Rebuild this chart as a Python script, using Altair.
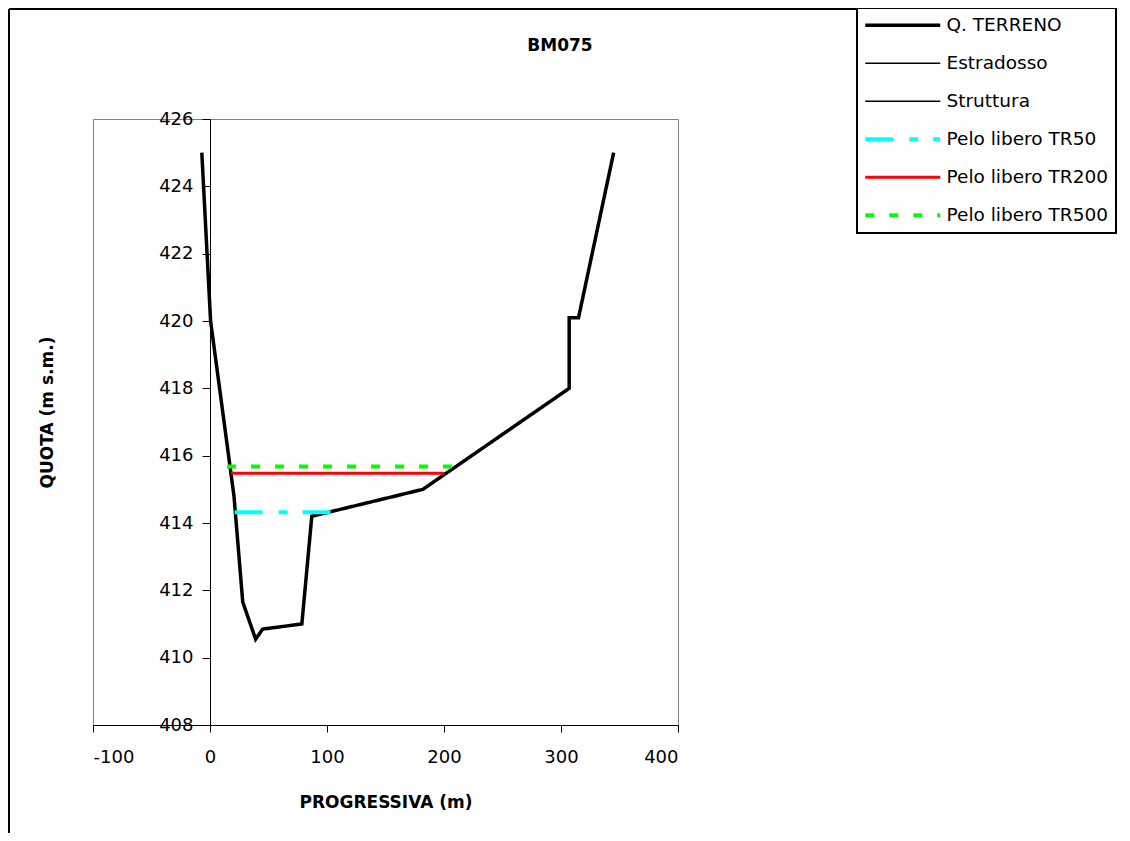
import altair as alt
import pandas as pd

# ---- data ----
series_names = ["Q. TERRENO", "Estradosso", "Struttura",
                "Pelo libero TR50", "Pelo libero TR200", "Pelo libero TR500"]
series_colors = ["#000000", "#000000", "#000000", "#00FFFF", "#FF0000", "#00FF00"]
series_widths = [3.5, 1.3, 1.3, 4, 3, 4]
series_dashes = [[1, 0], [1, 0], [1, 0], [28, 16, 9, 15], [1, 0], [9, 15]]

terreno_x = [-7, 0.5, 20.5, 28, 39, 45, 78.5, 87, 182, 307, 307, 315, 345]
terreno_y = [425.0, 420.0, 414.8, 411.65, 410.55, 410.85, 411.0, 414.2, 415.0, 418.0, 420.1, 420.1, 425.0]

tr50_x = [21, 104]
tr50_y = [414.32, 414.32]
tr200_x = [18, 200]
tr200_y = [415.48, 415.48]
tr500_x = [14.5, 207]
tr500_y = [415.68, 415.68]

x_ticks = [-100, 0, 100, 200, 300, 400]
y_ticks = [408, 410, 412, 414, 416, 418, 420, 422, 424, 426]

rows = []
for name, xs, ys in [("Q. TERRENO", terreno_x, terreno_y),
                     ("Pelo libero TR50", tr50_x, tr50_y),
                     ("Pelo libero TR200", tr200_x, tr200_y),
                     ("Pelo libero TR500", tr500_x, tr500_y)]:
    for i, (xv, yv) in enumerate(zip(xs, ys)):
        rows.append({"series": name, "x": xv, "y": yv, "idx": i})
df = pd.DataFrame(rows)

FONT = "DejaVu Sans"

legend = alt.Legend(
    title=None,
    orient="none",
    legendX=764,
    legendY=-111,
    padding=8,
    strokeColor="black",
    fillColor="white",
    symbolType="M-2.4,0H17.6",
    symbolSize=56.25,
    labelOffset=63,
    rowPadding=19,
    labelFont=FONT,
    labelFontSize=18.5,
    labelColor="black",
    labelLimit=400,
)

lines = alt.Chart(df).mark_line(strokeCap="butt").encode(
    x=alt.X("x:Q",
            scale=alt.Scale(domain=[-100, 400], nice=False, zero=False),
            axis=alt.Axis(values=x_ticks, labelExpr="'' + datum.value", title="PROGRESSIVA (m)",
                          grid=False, tickSize=7, labelPadding=16,
                          titleY=77, titleBaseline="middle")),
    y=alt.Y("y:Q",
            scale=alt.Scale(domain=[408, 426], nice=False, zero=False),
            axis=alt.Axis(values=y_ticks, labelExpr="'' + datum.value", title="QUOTA (m s.m.)",
                          grid=False, tickSize=8, labelPadding=9, offset=-117,
                          titleX=-163, titleY=293, titleAngle=270,
                          titleAlign="center", titleBaseline="middle")),
    color=alt.Color("series:N",
                    scale=alt.Scale(domain=series_names, range=series_colors),
                    legend=legend),
    strokeDash=alt.StrokeDash("series:N",
                              scale=alt.Scale(domain=series_names, range=series_dashes),
                              legend=legend),
    strokeWidth=alt.StrokeWidth("series:N",
                                scale=alt.Scale(type="ordinal", domain=series_names, range=series_widths),
                                legend=legend),
    order=alt.Order("idx:Q"),
    detail="series:N",
)

deco = pd.DataFrame({"a": [0]})
border_left = alt.Chart(deco).mark_rule(color="black", strokeWidth=2).encode(
    x=alt.value(-84), y=alt.value(-110), y2=alt.value(714))
border_top = alt.Chart(deco).mark_rule(color="black", strokeWidth=2).encode(
    x=alt.value(-84), x2=alt.value(764), y=alt.value(-110))
title_text = alt.Chart(deco).mark_text(
    font=FONT, fontWeight="bold", fontSize=17, align="center", baseline="middle", color="black"
).encode(x=alt.value(467), y=alt.value(-73), text=alt.value("BM075"))

chart = alt.layer(border_left, border_top, title_text, lines).properties(
    width=585, height=606,
    autosize=alt.AutoSizeParams(type="none"),
    padding={"left": 85, "top": 111, "right": 444, "bottom": 108},
    background="white",
).configure_view(
    stroke="#808080", strokeWidth=1
).configure_axis(
    domainColor="black", domainWidth=1, tickColor="black", tickWidth=1,
    labelFont=FONT, labelFontSize=18, labelColor="black",
    titleFont=FONT, titleFontSize=17, titleFontWeight="bold", titleColor="black",
).configure_legend(
    strokeWidth=2
)

chart.save("out.html", embed_options={"renderer": "svg", "actions": False})
